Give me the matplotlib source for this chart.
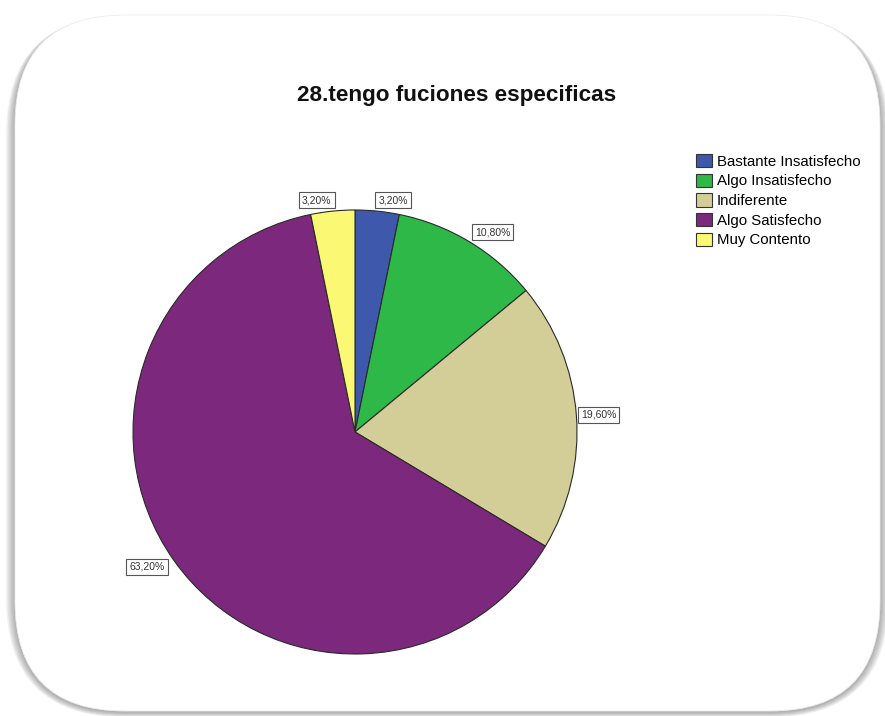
import numpy as np
import matplotlib
matplotlib.use("Agg")
import matplotlib.pyplot as plt
from matplotlib.patches import FancyBboxPatch, Patch

plt.rcParams["font.family"] = ["Liberation Sans", "DejaVu Sans"]

# --- DATOS ---
categorias = ["Bastante Insatisfecho", "Algo Insatisfecho", "Indiferente",
              "Algo Satisfecho", "Muy Contento"]
porcentajes = [3.2, 10.8, 19.6, 63.2, 3.2]
colores = ["#3E58AC", "#2EB848", "#D3CE97", "#7C287D", "#FBF873"]
titulo = "28.tengo fuciones especificas"

W, H = 885, 716
fig = plt.figure(figsize=(W / 100, H / 100), dpi=100)
fig.patch.set_facecolor("white")

# --- TARJETA DE FONDO CON SOMBRA (coordenadas en pixeles) ---
bg = fig.add_axes([0, 0, 1, 1])
bg.set_xlim(0, W)
bg.set_ylim(H, 0)
bg.axis("off")

x0, y0, x1, y1 = 15, 15, 880, 711
rad = 110
for i in range(9, 0, -1):
    sombra = FancyBboxPatch(
        (x0 + rad - i * 1.0, y0 + rad + 1),
        (x1 - x0) - 2 * rad + i * 2.0, (y1 - y0) - 2 * rad + i * 0.6,
        boxstyle=f"round,pad={rad},rounding_size={rad + i}",
        fc="#505050", ec="none", alpha=0.06, zorder=1,
    )
    bg.add_patch(sombra)
tarjeta = FancyBboxPatch(
    (x0 + rad, y0 + rad), (x1 - x0) - 2 * rad, (y1 - y0) - 2 * rad,
    boxstyle=f"round,pad={rad},rounding_size={rad}",
    fc="white", ec="#ececec", lw=0.6, zorder=2,
)
bg.add_patch(tarjeta)

bg.text(457, 96, titulo, ha="center", va="center", fontsize=16.2,
        fontweight="bold", color="#111111", zorder=3)

# --- GRAFICO DE PASTEL ---
cx, cy, r = 355, 432, 222
ax = fig.add_axes([(cx - r) / W, (H - cy - r) / H, 2 * r / W, 2 * r / H])

wedges, _ = ax.pie(
    porcentajes, colors=colores, startangle=90, counterclock=False,
    radius=1, wedgeprops=dict(edgecolor="#2a2a2a", linewidth=0.8),
)
ax.set_xlim(-1, 1)
ax.set_ylim(-1, 1)
ax.set_aspect("equal")
ax.axis("off")

for w, p in zip(wedges, porcentajes):
    ang = np.deg2rad((w.theta1 + w.theta2) / 2)
    c, s = np.cos(ang), np.sin(ang)
    d = 1.05 if abs(s) > 0.3 else 1.02
    ha = "left" if c > 0.05 else ("right" if c < -0.05 else "center")
    ax.text(d * c, d * s, f"{p:.2f}%".replace(".", ","), ha=ha, va="center",
            fontsize=7.5, color="#333333", clip_on=False,
            bbox=dict(boxstyle="square,pad=0.3", fc="white", ec="#555555", lw=0.8))

# --- LEYENDA ---
handles = [Patch(facecolor=col, edgecolor="#333333", linewidth=0.8) for col in colores]
fig.legend(handles, categorias, loc="upper left",
           bbox_to_anchor=(696 / W, 1 - 154 / H), frameon=False,
           fontsize=10.8, handlelength=1.05, handleheight=1.0,
           handletextpad=0.35, labelspacing=0.32, borderaxespad=0, borderpad=0)

fig.savefig("out.png", dpi=100)
